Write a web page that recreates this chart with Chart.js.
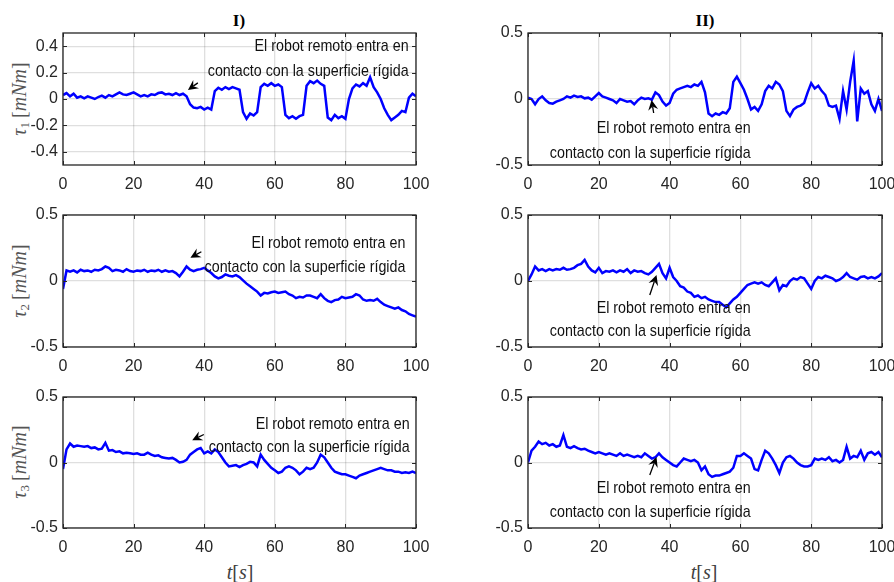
<!DOCTYPE html>
<html>
<head>
<meta charset="utf-8">
<script src="https://cdn.jsdelivr.net/npm/chart.js@4.4.1/dist/chart.umd.min.js"></script>
<style>
  html, body { margin: 0; padding: 0; background: #fff; }
  #fig { position: relative; width: 894px; height: 582px; overflow: hidden; background: #fff; }
  #fig canvas { position: absolute; }
  .lbl { position: absolute; transform: translate(-50%, -50%); white-space: nowrap;
         font-family: 'Liberation Serif', 'Times New Roman', serif; line-height: 1; }
  .title { font-weight: bold; font-size: 17px; color: #000; }
  .ylab { transform: translate(-50%, -50%) rotate(-90deg); font-size: 20px; color: #555; }
  .ylab sub { font-size: 13px; vertical-align: -3px; font-style: normal; }
  .xlab { font-size: 20px; color: #404040; }
</style>
</head>
<body>
<div id="fig">
  <div class="lbl title" style="left:239px;top:20px">I)</div>
  <div class="lbl title" style="left:705px;top:20px">II)</div>
  <div class="lbl ylab" style="left:20px;top:99px"><i>τ</i><sub>1</sub>&#8201;[<i>mNm</i>]</div>
  <div class="lbl ylab" style="left:20px;top:281px"><i>τ</i><sub>2</sub>&#8201;[<i>mNm</i>]</div>
  <div class="lbl ylab" style="left:20px;top:462px"><i>τ</i><sub>3</sub>&#8201;[<i>mNm</i>]</div>
  <div class="lbl xlab" style="left:240px;top:572px"><i>t</i>[<i>s</i>]</div>
  <div class="lbl xlab" style="left:704px;top:572px"><i>t</i>[<i>s</i>]</div>
</div>
<script>
// Sample instants (s), one per second
const times = Array.from({ length: 101 }, (_, i) => i);

// Joint torques, configuration I
const tau1I = [
  0.03, 0.045, 0.02, 0.04, 0.01, 0.02, 0.005, 0.02, 0.01, 0.0,
  0.015, 0.025, 0.01, 0.03, 0.02, 0.035, 0.05, 0.035, 0.03, 0.04,
  0.05, 0.035, 0.02, 0.03, 0.02, 0.035, 0.03, 0.045, 0.05, 0.035,
  0.04, 0.03, 0.045, 0.03, 0.04, 0.02, -0.04, -0.065, -0.07, -0.06,
  -0.08, -0.065, -0.08, 0.06, 0.085, 0.07, 0.09, 0.075, 0.09, 0.08,
  0.07, -0.1, -0.15, -0.11, -0.125, -0.1, 0.09, 0.115, 0.1, 0.12,
  0.1, 0.11, 0.09, -0.12, -0.145, -0.13, -0.15, -0.13, -0.12, 0.1,
  0.135, 0.12, 0.14, 0.115, 0.1, -0.14, -0.16, -0.12, -0.145, -0.13,
  -0.15, 0.0, 0.08, 0.11, 0.095, 0.12, 0.1, 0.165, 0.09, 0.05,
  0.0, -0.07, -0.12, -0.16, -0.14, -0.12, -0.09, -0.1, 0.01, 0.04,
  0.02
];
const tau2I = [
  -0.06, 0.08, 0.07, 0.08, 0.065, 0.085, 0.075, 0.08, 0.07, 0.085,
  0.08, 0.09, 0.11, 0.1, 0.075, 0.085, 0.08, 0.07, 0.09, 0.075,
  0.07, 0.08, 0.075, 0.085, 0.07, 0.08, 0.075, 0.085, 0.07, 0.08,
  0.07, 0.075, 0.06, 0.035, 0.07, 0.11, 0.085, 0.075, 0.085, 0.09,
  0.1, 0.08, 0.06, 0.035, 0.02, 0.03, 0.05, 0.04, 0.035, 0.045,
  0.03, 0.005, -0.02, -0.04, -0.06, -0.08, -0.11, -0.09, -0.095, -0.085,
  -0.08, -0.09, -0.085, -0.08, -0.1, -0.11, -0.13, -0.12, -0.125, -0.11,
  -0.11, -0.12, -0.13, -0.1, -0.13, -0.15, -0.16, -0.145, -0.14, -0.12,
  -0.13, -0.125, -0.12, -0.1, -0.11, -0.14, -0.15, -0.145, -0.15, -0.135,
  -0.16, -0.18, -0.19, -0.2, -0.21, -0.2, -0.22, -0.23, -0.25, -0.26,
  -0.27
];
const tau3I = [
  -0.05, 0.1, 0.145, 0.12, 0.13, 0.125, 0.12, 0.125, 0.11, 0.115,
  0.1, 0.105, 0.15, 0.09, 0.095, 0.08, 0.085, 0.07, 0.075, 0.07,
  0.065, 0.07, 0.06, 0.06, 0.075, 0.06, 0.05, 0.055, 0.04, 0.035,
  0.03, 0.035, 0.02, 0.0, 0.005, 0.02, 0.06, 0.08, 0.1, 0.11,
  0.07, 0.085, 0.07, 0.1, 0.08, 0.04, 0.0, -0.03, -0.025, -0.02,
  -0.035, -0.02, -0.01, 0.005, 0.0, -0.03, 0.06, 0.02, -0.01, -0.04,
  -0.06, -0.08, -0.07, -0.04, -0.03, -0.04, -0.06, -0.09, -0.07, -0.04,
  -0.05, -0.04, 0.0, 0.06, 0.04, 0.0, -0.04, -0.07, -0.08, -0.09,
  -0.09, -0.1, -0.11, -0.12, -0.1, -0.09, -0.08, -0.07, -0.06, -0.05,
  -0.04, -0.05, -0.06, -0.06, -0.07, -0.07, -0.08, -0.075, -0.08, -0.07,
  -0.08
];

// Joint torques, configuration II
const tau1II = [
  0.01, 0.0, -0.04, 0.0, 0.02, -0.01, -0.03, -0.035, -0.02, -0.01,
  0.0, 0.02, 0.01, 0.025, 0.015, 0.02, 0.005, 0.01, -0.005, 0.02,
  0.045, 0.02, 0.01, 0.0, -0.01, -0.03, 0.0, -0.01, -0.02, -0.015,
  -0.04, -0.01, 0.01, 0.0, 0.005, -0.005, 0.05, 0.03, -0.02, -0.05,
  -0.03, 0.04, 0.07, 0.08, 0.09, 0.1, 0.09, 0.11, 0.1, 0.13,
  0.05, -0.11, -0.13, -0.11, -0.12, -0.1, -0.11, -0.07, 0.13, 0.17,
  0.12, 0.07, 0.0, -0.08, -0.06, -0.09, -0.04, 0.06, 0.1, 0.08,
  0.13, 0.11, 0.06, -0.09, -0.13, -0.08, -0.06, -0.05, -0.03, 0.05,
  0.12, 0.08, 0.1, 0.06, 0.03, -0.05, -0.06, -0.05, -0.15, 0.06,
  -0.08, 0.13, 0.29, -0.17, 0.08, 0.04, 0.06, -0.04, -0.09, 0.0,
  -0.09
];
const tau2II = [
  0.0, 0.05, 0.11, 0.08, 0.09, 0.075, 0.09, 0.08, 0.09, 0.085,
  0.1, 0.085, 0.09, 0.1, 0.12, 0.13, 0.16, 0.11, 0.08, 0.065,
  0.1, 0.06, 0.075, 0.07, 0.08, 0.065, 0.08, 0.07, 0.09, 0.06,
  0.08, 0.07, 0.075, 0.06, 0.05, 0.07, 0.1, 0.13, 0.06, 0.02,
  0.1, 0.03, 0.0, -0.04, -0.05, -0.08, -0.09, -0.12, -0.11, -0.13,
  -0.12, -0.14, -0.15, -0.16, -0.16, -0.18, -0.2, -0.17, -0.14, -0.12,
  -0.09, -0.06, -0.03, -0.02, -0.01, -0.02, -0.01, -0.03, -0.04, -0.01,
  0.02, -0.07, -0.03, -0.04, 0.0, 0.02, 0.01, 0.03, 0.02, -0.02,
  -0.06, 0.0, 0.03, 0.02, 0.04, 0.03, 0.02, 0.0, 0.01, 0.03,
  0.06, 0.03, 0.02, 0.01, 0.03, 0.035, 0.02, 0.03, 0.02, 0.035,
  0.06
];
const tau3II = [
  0.0, 0.09, 0.12, 0.16, 0.14, 0.15, 0.13, 0.14, 0.12, 0.13,
  0.21, 0.12, 0.11, 0.125, 0.11, 0.1, 0.105, 0.09, 0.08, 0.07,
  0.08, 0.07, 0.06, 0.07, 0.06, 0.05, 0.07, 0.05, 0.06, 0.05,
  0.04, 0.05, 0.04, 0.07, 0.05, 0.03, 0.04, 0.07, 0.04, 0.02,
  0.0, -0.02, -0.03, 0.0, 0.03, 0.02, 0.01, 0.02, 0.0, -0.06,
  -0.03, -0.09, -0.11, -0.1, -0.1, -0.09, -0.08, -0.07, -0.04, 0.05,
  0.05, 0.07, 0.05, 0.03, -0.05, -0.06, 0.02, 0.09, 0.07, 0.03,
  -0.02, -0.08, 0.0, 0.04, 0.05, 0.03, 0.0, -0.02, -0.03, -0.03,
  -0.02, 0.03, 0.02, 0.03, 0.02, 0.04, 0.01, 0.02, 0.0, 0.02,
  0.12, 0.03, 0.05, 0.04, 0.09, 0.02, 0.07, 0.08, 0.06, 0.08,
  0.04
];

// Axis ticks
const xTicks = [0, 20, 40, 60, 80, 100];
const yTicksFine = [-0.4, -0.2, 0, 0.2, 0.4];
const yTicksCoarse = [-0.5, 0, 0.5];

// Annotation text
const noteLines = ['El robot remoto entra en', 'contacto con la superficie rígida'];

const SANS = "'Liberation Sans', Arial, Helvetica, sans-serif";
const INK = '#262626';

// Panel layout: plot box in page pixels, annotation anchors in data units
const panels = [
  { box: [63, 33, 416, 165],  values: tau1I,  yTicks: yTicksFine,
    note: { t: 97.9, v: [0.397, 0.206],   tail: [38.2, 0.122],  tip: [35.4, 0.069] } },
  { box: [528, 33, 882, 165], values: tau1II, yTicks: yTicksCoarse,
    note: { t: 62.9, v: [-0.22, -0.41],   tail: [35.5, -0.106], tip: [34.9, -0.008] } },
  { box: [63, 215, 416, 347], values: tau2I,  yTicks: yTicksCoarse,
    note: { t: 97.0, v: [0.288, 0.106],   tail: [39.2, 0.222],  tip: [36.1, 0.176] } },
  { box: [528, 215, 882, 347], values: tau2II, yTicks: yTicksCoarse,
    note: { t: 62.9, v: [-0.205, -0.384], tail: [34.4, -0.106], tip: [36.3, 0.045] } },
  { box: [63, 397, 416, 528], values: tau3I,  yTicks: yTicksCoarse,
    note: { t: 98.2, v: [0.29, 0.118],    tail: [39.9, 0.214],  tip: [36.6, 0.169] } },
  { box: [528, 397, 882, 528], values: tau3II, yTicks: yTicksCoarse,
    note: { t: 62.9, v: [-0.194, -0.381], tail: [34.4, -0.096], tip: [36.3, 0.042] } }
];

const PAD_L = 60, PAD_T = 14, PAD_R = 22, PAD_B = 36;

function drawArrow(ctx, x0, y0, x1, y1) {
  const a = Math.atan2(y1 - y0, x1 - x0);
  const c = Math.cos(a), s = Math.sin(a);
  const L = 10, W = 5, back = 3.5;
  ctx.beginPath();
  ctx.moveTo(x0, y0);
  ctx.lineTo(x1 - c * (L - back), y1 - s * (L - back));
  ctx.stroke();
  ctx.beginPath();
  ctx.moveTo(x1, y1);
  ctx.lineTo(x1 - L * c + W * s, y1 - L * s - W * c);
  ctx.lineTo(x1 - (L - back) * c, y1 - (L - back) * s);
  ctx.lineTo(x1 - L * c - W * s, y1 - L * s + W * c);
  ctx.closePath();
  ctx.fill();
}

// Box outline, inward tick marks and the contact annotation
const framePlugin = {
  id: 'frame',
  afterDatasetsDraw(chart, args, opts) {
    const { ctx, chartArea: a, scales: { x, y } } = chart;
    ctx.save();
    ctx.strokeStyle = INK;
    ctx.lineWidth = 1.3;
    ctx.strokeRect(a.left, a.top, a.right - a.left, a.bottom - a.top);
    ctx.lineWidth = 1;
    const tl = 4;
    ctx.beginPath();
    xTicks.forEach(v => {
      const px = Math.round(x.getPixelForValue(v)) + 0.5;
      ctx.moveTo(px, a.bottom); ctx.lineTo(px, a.bottom - tl);
      ctx.moveTo(px, a.top); ctx.lineTo(px, a.top + tl);
    });
    opts.yTicks.forEach(v => {
      const py = Math.round(y.getPixelForValue(v)) + 0.5;
      ctx.moveTo(a.left, py); ctx.lineTo(a.left + tl, py);
      ctx.moveTo(a.right, py); ctx.lineTo(a.right - tl, py);
    });
    ctx.stroke();

    // Two-line note, set in a condensed width
    const n = opts.note;
    ctx.fillStyle = '#111';
    ctx.font = '17px ' + SANS;
    ctx.textAlign = 'right';
    ctx.textBaseline = 'middle';
    const tx = x.getPixelForValue(n.t);
    noteLines.forEach((line, i) => {
      ctx.save();
      ctx.translate(tx, y.getPixelForValue(n.v[i]));
      ctx.scale(0.84, 1);
      ctx.fillText(line, 0, 0);
      ctx.restore();
    });

    ctx.strokeStyle = '#000';
    ctx.fillStyle = '#000';
    ctx.lineWidth = 1.3;
    drawArrow(ctx,
      x.getPixelForValue(n.tail[0]), y.getPixelForValue(n.tail[1]),
      x.getPixelForValue(n.tip[0]), y.getPixelForValue(n.tip[1]));
    ctx.restore();
  }
};

const fig = document.getElementById('fig');
const tickFont = { family: SANS, size: 16 };
const gridColor = 'rgba(38,38,38,0.15)';

panels.forEach(p => {
  const [L, T, R, B] = p.box;
  const cv = document.createElement('canvas');
  const w = (R - L) + PAD_L + PAD_R;
  const h = (B - T) + PAD_T + PAD_B;
  cv.width = w; cv.height = h;
  cv.style.left = (L - PAD_L) + 'px';
  cv.style.top = (T - PAD_T) + 'px';
  cv.style.width = w + 'px';
  cv.style.height = h + 'px';
  fig.appendChild(cv);

  new Chart(cv.getContext('2d'), {
    type: 'line',
    data: {
      datasets: [{
        data: times.map((t, i) => ({ x: t, y: p.values[i] })),
        borderColor: '#0000ff',
        borderWidth: 2.5,
        borderJoinStyle: 'miter',
        pointRadius: 0,
        tension: 0,
        fill: false
      }]
    },
    options: {
      responsive: false,
      animation: false,
      devicePixelRatio: 1,
      events: [],
      layout: { padding: { left: 0, top: PAD_T, right: PAD_R, bottom: 0 } },
      plugins: {
        legend: { display: false },
        tooltip: { enabled: false },
        frame: { yTicks: p.yTicks, note: p.note }
      },
      scales: {
        x: {
          type: 'linear', min: 0, max: 100,
          afterBuildTicks: s => { s.ticks = xTicks.map(v => ({ value: v })); },
          afterFit: s => { s.height = PAD_B; s.paddingLeft = 0; s.paddingRight = 0; },
          ticks: { font: tickFont, color: INK, padding: 10, maxRotation: 0, autoSkip: false },
          grid: { color: gridColor, lineWidth: 1.3, drawTicks: false },
          border: { display: false }
        },
        y: {
          type: 'linear', min: -0.5, max: 0.5,
          afterBuildTicks: s => { s.ticks = p.yTicks.map(v => ({ value: v })); },
          afterFit: s => { s.width = PAD_L; s.paddingTop = 0; s.paddingBottom = 0; },
          ticks: {
            font: tickFont, color: INK, padding: 5, autoSkip: false,
            callback: v => (v === 0 ? '0' : String(v))
          },
          grid: { color: gridColor, lineWidth: 1.3, drawTicks: false },
          border: { display: false }
        }
      }
    },
    plugins: [framePlugin]
  });
});
</script>
</body>
</html>
